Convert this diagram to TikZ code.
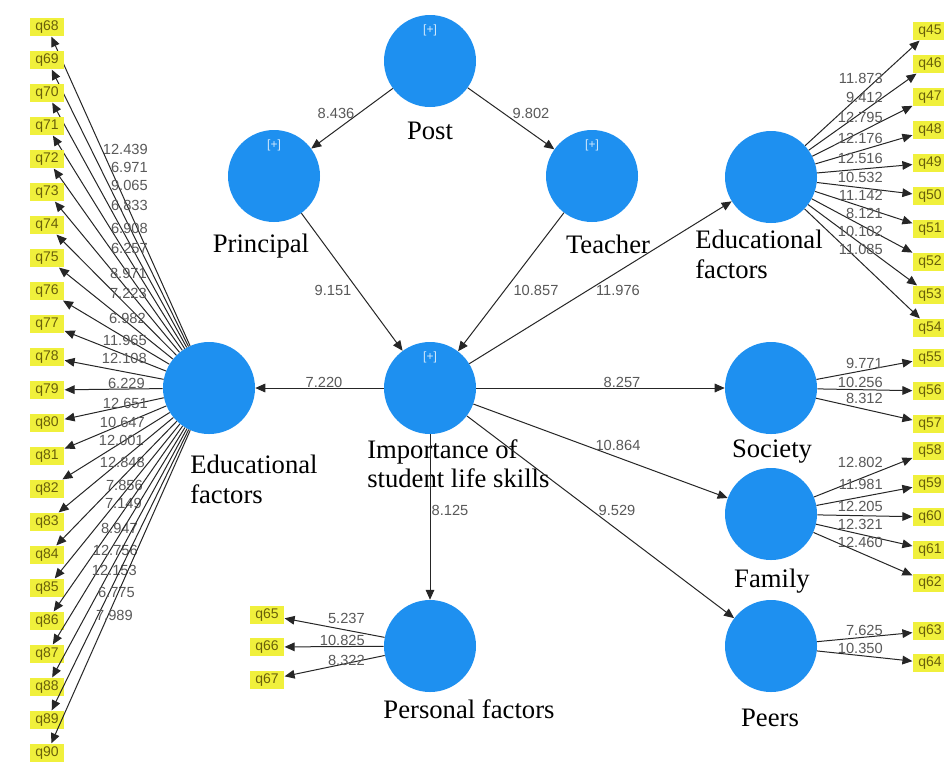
\documentclass[tikz,border=0pt]{standalone}
\usepackage{fontspec}
\setmainfont{Liberation Serif}
\newfontfamily\labelsans{Liberation Sans}
\usetikzlibrary{shapes,arrows,positioning,calc,arrows.meta}

\definecolor{lvblue}{RGB}{30,144,240}
\definecolor{qyellow}{RGB}{240,240,60}
\definecolor{qtext}{RGB}{105,95,10}

\tikzset{
    latent/.style={circle, fill=lvblue, minimum size=69pt, inner sep=0pt},
    indicator/.style={fill=qyellow, text=qtext, font=\labelsans\fontsize{10.5}{12}\selectfont, minimum width=26pt, minimum height=14pt, inner sep=0.5pt},
    link/.style={draw=black!85, line width=0.75pt, -{Triangle[length=7.5pt,width=6.5pt]}},
    weight/.style={font=\labelsans\fontsize{11}{12}\selectfont, text=black!65, inner sep=0pt},
    lvname/.style={font=\fontsize{20}{22}\selectfont, inner sep=0pt, align=left},
    plus/.style={font=\labelsans\fontsize{9}{10}\selectfont, text=white!80!lvblue, inner sep=0pt}
}

\begin{document}
\begin{tikzpicture}[x=0.75pt,y=-0.75pt]
    \fill[white] (0,0) rectangle (944,765);
    \useasboundingbox (0,0) rectangle (944,765);

    % Latent variables
    \node[latent] (post) at (430,61) {};
    \node[latent] (principal) at (274,176) {};
    \node[latent] (teacher) at (592,176) {};
    \node[latent] (skills) at (430,388) {};
    \node[latent] (eduL) at (209,388) {};
    \node[latent] (eduR) at (771,177) {};
    \node[latent] (society) at (771,388) {};
    \node[latent] (family) at (771,514) {};
    \node[latent] (peers) at (771,646) {};
    \node[latent] (personal) at (430,646) {};

    % [+] markers on the higher order constructs
    \foreach \lv in {post,principal,teacher,skills}
        \node[plus] (\lv-plus) at ([yshift=-12pt]\lv.north) {[+]};

    % Names of the latent variables
    \node[lvname, anchor=base] (post-name) at (430,139) {Post};
    \node[lvname, anchor=base] (principal-name) at (261,252) {Principal};
    \node[lvname, anchor=base] (teacher-name) at (608,253) {Teacher};
    \node[lvname, anchor=north west] (eduR-name) at (695,230) {Educational\\factors};
    \node[lvname, anchor=north west] (eduL-name) at (190,455) {Educational\\factors};
    \node[lvname, anchor=north west] (skills-name) at (367,439) {Importance of\\student life skills};
    \node[lvname, anchor=base] (society-name) at (772,457) {Society};
    \node[lvname, anchor=base] (family-name) at (772,587) {Family};
    \node[lvname, anchor=base] (peers-name) at (770,726) {Peers};
    \node[lvname, anchor=base] (personal-name) at (469,718) {Personal factors};

    % Structural model
    \foreach \a/\b/\w/\wx/\wy in {post/principal/8.436/336/113, post/teacher/9.802/531/113,
        principal/skills/9.151/333/290, teacher/skills/10.857/536/290,
        skills/eduR/11.976/618/290, skills/eduL/7.220/324/382, skills/society/8.257/622/382,
        skills/family/10.864/618/445, skills/peers/9.529/617/510, skills/personal/8.125/450/510} {
        \draw[link] (\a) -- (\b);
        \node[weight] (w-\a-\b) at (\wx,\wy) {\w};
    }

    % Indicators of the left educational factors (q68 - q90)
    \foreach \k/\w/\wx/\wy in {68/12.439/148/149, 69/6.971/148/167, 70/9.065/148/185,
        71/6.833/148/205, 72/6.908/148/228, 73/6.257/148/248, 74/8.971/147/273,
        75/7.223/147/293, 76/6.982/146/318, 77/11.965/147/340, 78/12.108/147/358,
        79/6.229/145/383, 80/12.651/148/403, 81/10.647/145/422, 82/12.001/144/440,
        83/12.848/145/462, 84/7.856/143/485, 85/7.149/142/503, 86/8.947/138/528,
        87/12.756/138/550, 88/12.153/137/570, 89/6.775/135/592, 90/7.989/133/615} {
        \node[indicator] (q\k) at (47,{27+33*(\k-68)}) {q\k};
        \draw[link] (eduL) -- (q\k);
        \node[weight, anchor=east] (w\k) at (\wx,\wy) {\w};
    }

    % Indicators on the right (q45 - q64), boxes run into the page edge
    \foreach \k/\lv/\y/\w/\wy in {45/eduR/31/11.873/78, 46/eduR/64/9.412/97,
        47/eduR/97/12.795/117, 48/eduR/130/12.176/138, 49/eduR/163/12.516/158,
        50/eduR/196/10.532/177, 51/eduR/229/11.142/195, 52/eduR/262/8.121/213,
        53/eduR/295/10.102/231, 54/eduR/328/11.085/249,
        55/society/358/9.771/363, 56/society/391/10.256/382, 57/society/424/8.312/398,
        58/family/451/12.802/462, 59/family/484/11.981/484, 60/family/517/12.205/506,
        61/family/550/12.321/524, 62/family/583/12.460/542,
        63/peers/631/7.625/630, 64/peers/663/10.350/648} {
        \node[indicator] (q\k) at (930,\y) {q\k};
        \draw[link] (\lv) -- (q\k);
        \node[weight, anchor=east] (w\k) at (883,\wy) {\w};
    }

    % Indicators of personal factors (q65 - q67)
    \foreach \k/\y/\w/\wy in {65/615/5.237/618, 66/647/10.825/640, 67/680/8.322/660} {
        \node[indicator] (q\k) at (267,\y) {q\k};
        \draw[link] (personal) -- (q\k);
        \node[weight, anchor=east] (w\k) at (365,\wy) {\w};
    }

\end{tikzpicture}
\end{document}
